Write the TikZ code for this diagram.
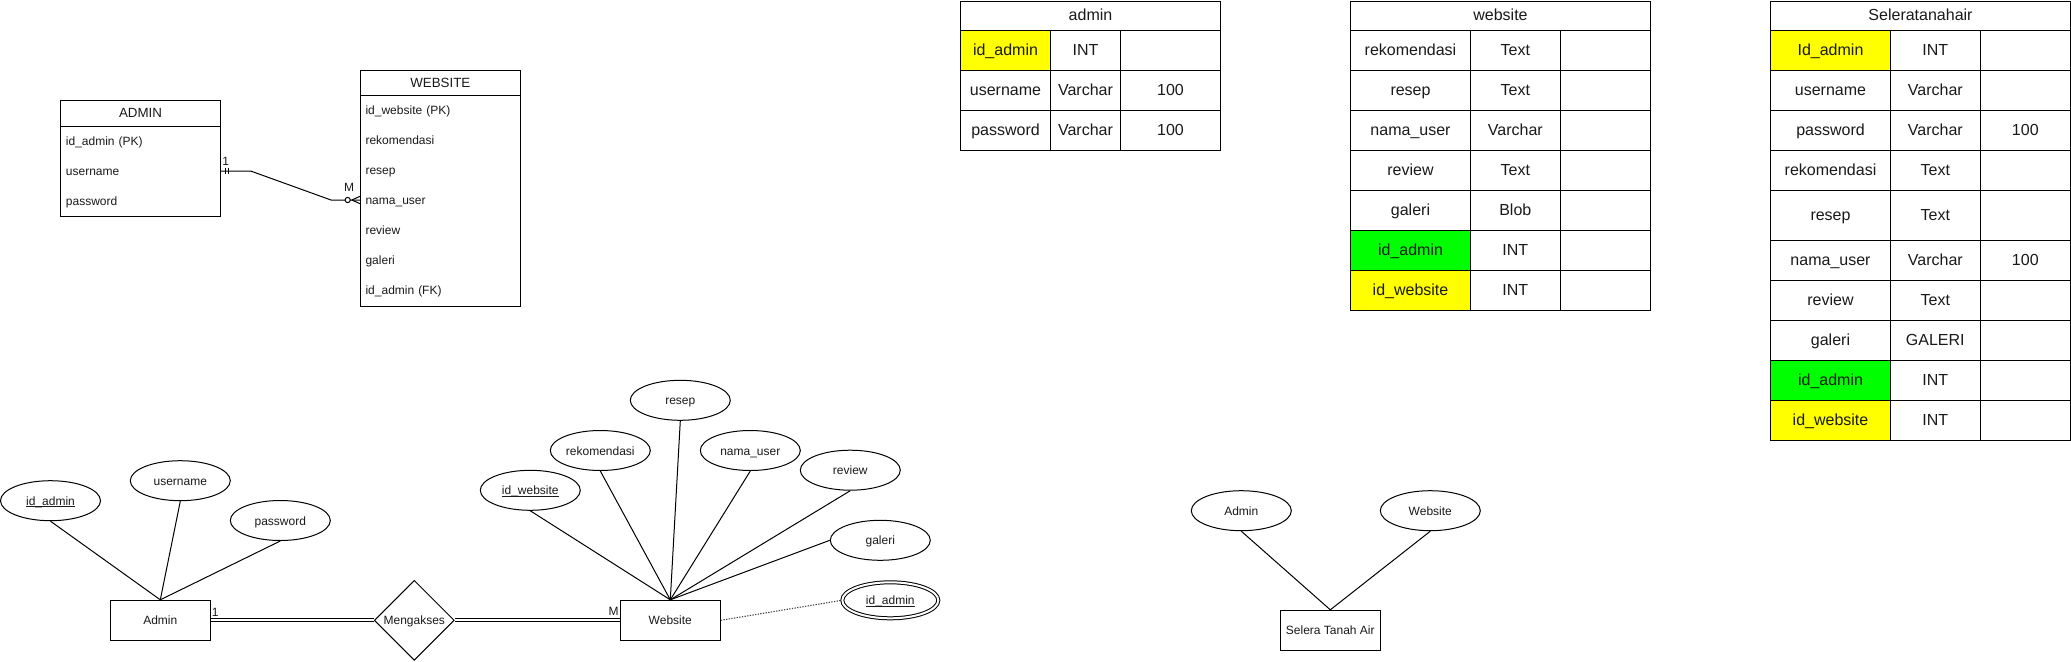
\documentclass[tikz,border=0pt]{standalone}
\usepackage{fontspec}
\setmainfont{Liberation Sans}
\usetikzlibrary{shapes.geometric,fit,calc}
\definecolor{yel}{HTML}{FFFF00}
\definecolor{grn}{HTML}{00FF00}
\definecolor{txt}{HTML}{1A1A1A}
\definecolor{dotc}{HTML}{404040}
\newcommand\tc[7]{\node[cell,fill=#6,fit={(#2,#3) (#4,#5)}] (#1) {};\node[celltext] (#1t) at (#1.center) {#7};}
\newcommand\ulx[1]{\setbox0=\hbox{#1}\rlap{\vrule width\wd0 height -0.85pt depth 1.55pt}\box0}
\begin{document}
\begin{tikzpicture}[x=0.75pt,y=-0.75pt,
  every node/.style={text=txt},
  fixh/.style={text height=0.905em, text depth=0.212em},
  cell/.style={draw, line width=0.75pt, inner sep=0pt},
  celltext/.style={inner sep=0pt, fixh, font=\fontsize{12}{14}\selectfont},
  attr/.style={ellipse, draw, line width=0.75pt, fill=white, minimum width=75pt, minimum height=30pt, inner sep=0pt, fixh, font=\fontsize{9}{11}\selectfont},
  ent/.style={rectangle, draw, line width=0.75pt, fill=white, minimum width=75pt, minimum height=30pt, inner sep=0pt, fixh, font=\fontsize{9}{11}\selectfont},
  rel/.style={diamond, draw, line width=0.75pt, fill=white, minimum width=60pt, minimum height=60pt, aspect=1, inner sep=0pt, fixh, font=\fontsize{9}{11}\selectfont},
  conn/.style={line width=0.75pt},
  dbl/.style={double, double distance=1.75pt, line width=0.6pt},
  dotline/.style={line width=0.8pt, dotc, dash pattern=on 1pt off 1pt},
  erbox/.style={draw, line width=0.75pt, inner sep=0pt},
  ertitle/.style={inner sep=0pt, fixh, font=\fontsize{10}{12}\selectfont},
  row/.style={anchor=west, inner xsep=3.75pt, inner ysep=0pt, text width=112.5pt, minimum height=22.5pt, align=left, fixh, font=\fontsize{9}{11}\selectfont},
  lbl/.style={inner sep=0pt, font=\fontsize{9}{11}\selectfont}
]
\useasboundingbox (0,0) rectangle (2071,661);

% ---------------- top-left ER (crow's foot) ----------------
\node[erbox, fit={(60.7,100.7) (220.3,126)}] (adminHead) {};
\node[ertitle] (adminHeadT) at (adminHead.center) {ADMIN};
\node[erbox, fit={(60.7,126) (220.3,216)}] (adminBody) {};
\node[row] (aId) at (60.7,141) {id\_admin (PK)};
\node[row] (aUser) at (60.7,171) {username};
\node[row] (aPass) at (60.7,201) {password};

\node[erbox, fit={(360.3,70.3) (520.3,95)}] (webHead) {};
\node[ertitle] (webHeadT) at (webHead.center) {WEBSITE};
\node[erbox, fit={(360.3,95) (520.3,306.7)}] (webBody) {};
\node[row] (wId) at (360.3,110) {id\_website (PK)};
\node[row] (wRek) at (360.3,140) {rekomendasi};
\node[row] (wRes) at (360.3,170) {resep};
\node[row] (wNama) at (360.3,200) {nama\_user};
\node[row] (wRev) at (360.3,230) {review};
\node[row] (wGal) at (360.3,260) {galeri};
\node[row] (wFk) at (360.3,290) {id\_admin (FK)};

\draw[conn] (aUser.east) -- ++(29.4,0) coordinate (b1) -- ($(wNama.west)+(-29.3,0)$) coordinate (b2) -- (wNama.west);
% mandatory-one marks
\draw[conn] ($(aUser.east)+(4.4,-3.3)$) -- ++(0,6.6);
\draw[conn] ($(aUser.east)+(7,-3.3)$) -- ++(0,6.6);
% zero-to-many marks
\draw[conn] ($(wNama.west)+(-8.5,0)$) -- ($(wNama.west)+(0,-3.8)$);
\draw[conn] ($(wNama.west)+(-8.5,0)$) -- ($(wNama.west)+(0,3.8)$);
\draw[conn, fill=white] ($(wNama.west)+(-12.6,0)$) circle[radius=2.6];
\node[lbl] (one1) at (225.7,161) {1};
\node[lbl] (m1) at (349,187.7) {M};

% ---------------- tables ----------------
% admin
\tc{atT}{960.5}{1}{1220.5}{30.7}{white}{admin}
\tc{at11}{960.5}{30.7}{1050.5}{70.7}{yel}{id\_admin}
\tc{at12}{1050.5}{30.7}{1120.5}{70.7}{white}{INT}
\tc{at13}{1120.5}{30.7}{1220.5}{70.7}{white}{}
\tc{at21}{960.5}{70.7}{1050.5}{110.7}{white}{username}
\tc{at22}{1050.5}{70.7}{1120.5}{110.7}{white}{Varchar}
\tc{at23}{1120.5}{70.7}{1220.5}{110.7}{white}{100}
\tc{at31}{960.5}{110.7}{1050.5}{150.5}{white}{password}
\tc{at32}{1050.5}{110.7}{1120.5}{150.5}{white}{Varchar}
\tc{at33}{1120.5}{110.7}{1220.5}{150.5}{white}{100}

% website
\tc{wtT}{1350.7}{1}{1650.3}{30.7}{white}{website}
\tc{wt11}{1350.7}{30.7}{1470.3}{70.7}{white}{rekomendasi}
\tc{wt12}{1470.3}{30.7}{1560.3}{70.7}{white}{Text}
\tc{wt13}{1560.3}{30.7}{1650.3}{70.7}{white}{}
\tc{wt21}{1350.7}{70.7}{1470.3}{110.7}{white}{resep}
\tc{wt22}{1470.3}{70.7}{1560.3}{110.7}{white}{Text}
\tc{wt23}{1560.3}{70.7}{1650.3}{110.7}{white}{}
\tc{wt31}{1350.7}{110.7}{1470.3}{150.7}{white}{nama\_user}
\tc{wt32}{1470.3}{110.7}{1560.3}{150.7}{white}{Varchar}
\tc{wt33}{1560.3}{110.7}{1650.3}{150.7}{white}{}
\tc{wt41}{1350.7}{150.7}{1470.3}{190.7}{white}{review}
\tc{wt42}{1470.3}{150.7}{1560.3}{190.7}{white}{Text}
\tc{wt43}{1560.3}{150.7}{1650.3}{190.7}{white}{}
\tc{wt51}{1350.7}{190.7}{1470.3}{230.7}{white}{galeri}
\tc{wt52}{1470.3}{190.7}{1560.3}{230.7}{white}{Blob}
\tc{wt53}{1560.3}{190.7}{1650.3}{230.7}{white}{}
\tc{wt61}{1350.7}{230.7}{1470.3}{270.7}{grn}{id\_admin}
\tc{wt62}{1470.3}{230.7}{1560.3}{270.7}{white}{INT}
\tc{wt63}{1560.3}{230.7}{1650.3}{270.7}{white}{}
\tc{wt71}{1350.7}{270.7}{1470.3}{310.5}{yel}{id\_website}
\tc{wt72}{1470.3}{270.7}{1560.3}{310.5}{white}{INT}
\tc{wt73}{1560.3}{270.7}{1650.3}{310.5}{white}{}

% Seleratanahair
\tc{stT}{1770.7}{1}{2070.3}{30.7}{white}{Seleratanahair}
\tc{st11}{1770.7}{30.7}{1890.3}{70.7}{yel}{Id\_admin}
\tc{st12}{1890.3}{30.7}{1980.3}{70.7}{white}{INT}
\tc{st13}{1980.3}{30.7}{2070.3}{70.7}{white}{}
\tc{st21}{1770.7}{70.7}{1890.3}{110.7}{white}{username}
\tc{st22}{1890.3}{70.7}{1980.3}{110.7}{white}{Varchar}
\tc{st23}{1980.3}{70.7}{2070.3}{110.7}{white}{}
\tc{st31}{1770.7}{110.7}{1890.3}{150.7}{white}{password}
\tc{st32}{1890.3}{110.7}{1980.3}{150.7}{white}{Varchar}
\tc{st33}{1980.3}{110.7}{2070.3}{150.7}{white}{100}
\tc{st41}{1770.7}{150.7}{1890.3}{190.7}{white}{rekomendasi}
\tc{st42}{1890.3}{150.7}{1980.3}{190.7}{white}{Text}
\tc{st43}{1980.3}{150.7}{2070.3}{190.7}{white}{}
\tc{st51}{1770.7}{190.7}{1890.3}{240.7}{white}{resep}
\tc{st52}{1890.3}{190.7}{1980.3}{240.7}{white}{Text}
\tc{st53}{1980.3}{190.7}{2070.3}{240.7}{white}{}
\tc{st61}{1770.7}{240.7}{1890.3}{280.7}{white}{nama\_user}
\tc{st62}{1890.3}{240.7}{1980.3}{280.7}{white}{Varchar}
\tc{st63}{1980.3}{240.7}{2070.3}{280.7}{white}{100}
\tc{st71}{1770.7}{280.7}{1890.3}{320.7}{white}{review}
\tc{st72}{1890.3}{280.7}{1980.3}{320.7}{white}{Text}
\tc{st73}{1980.3}{280.7}{2070.3}{320.7}{white}{}
\tc{st81}{1770.7}{320.7}{1890.3}{360.7}{white}{galeri}
\tc{st82}{1890.3}{320.7}{1980.3}{360.7}{white}{GALERI}
\tc{st83}{1980.3}{320.7}{2070.3}{360.7}{white}{}
\tc{st91}{1770.7}{360.7}{1890.3}{400.7}{grn}{id\_admin}
\tc{st92}{1890.3}{360.7}{1980.3}{400.7}{white}{INT}
\tc{st93}{1980.3}{360.7}{2070.3}{400.7}{white}{}
\tc{sta1}{1770.7}{400.7}{1890.3}{440.3}{yel}{id\_website}
\tc{sta2}{1890.3}{400.7}{1980.3}{440.3}{white}{INT}
\tc{sta3}{1980.3}{400.7}{2070.3}{440.3}{white}{}

% ---------------- bottom ER (Chen) ----------------
\node[ent] (adminE) at (160.3,620.3) {Admin};
\node[rel] (meng) at (414.3,620.3) {Mengakses};
\node[ent] (webE) at (670.3,620.3) {Website};

\node[attr] (idA) at (50.5,500.7) {\ulx{id\_admin}};
\node[attr] (userA) at (180.3,480.7) {username};
\node[attr] (passA) at (280.3,520.5) {password};

\node[attr] (idW) at (530.3,490.3) {\ulx{id\_website}};
\node[attr] (rek) at (600.3,450.5) {rekomendasi};
\node[attr] (resep) at (680.3,400.3) {resep};
\node[attr] (nama) at (750.3,450.5) {nama\_user};
\node[attr] (review) at (850.3,470.2) {review};
\node[attr] (galeri) at (880.3,540.3) {galeri};
\node[attr, double, double distance=1.5pt, minimum width=72pt, minimum height=27pt] (idA2) at (890.3,600.3) {\ulx{id\_admin}};

\draw[conn] (idA.south) -- (adminE.north);
\draw[conn] (userA.south) -- (adminE.north);
\draw[conn] (passA.south) -- (adminE.north);

\draw[conn] (idW.south) -- (webE.north);
\draw[conn] (rek.south) -- (webE.north);
\draw[conn] (resep.south) -- (webE.north);
\draw[conn] (nama.south) -- (webE.north);
\draw[conn] (review.south) -- (webE.north);
\draw[conn] (galeri.west) -- (webE.north);

\draw[dbl] (adminE.east) -- (meng.west);
\draw[dbl] (meng.east) -- (webE.west);
\draw[dotline] (webE.east) -- (idA2.west);

\node[lbl] (one2) at (215.3,612) {1};
\node[lbl] (m2) at (613.7,611.3) {M};

% Selera Tanah Air
\node[attr] (selA) at (1241.3,510.7) {Admin};
\node[attr] (selW) at (1430.3,510.7) {Website};
\node[ent] (sel) at (1330.3,630.3) {Selera Tanah Air};
\draw[conn] (selA.south) -- (sel.north);
\draw[conn] (selW.south) -- (sel.north);
\end{tikzpicture}
\end{document}
